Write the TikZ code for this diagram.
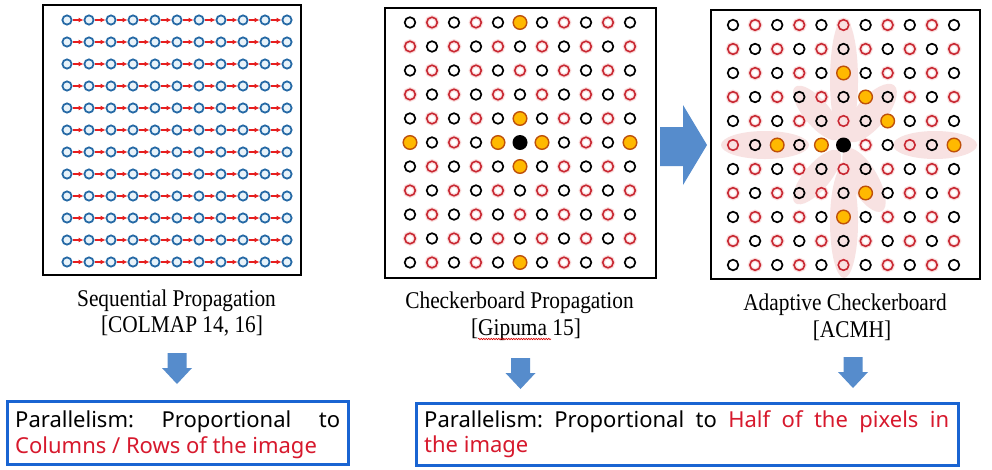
\documentclass[tikz,border=0pt]{standalone}
\usepackage{fontspec}
\newfontfamily\titlefont{Liberation Serif}[FakeStretch=0.89]
\newfontfamily\boxfont{Noto Sans}
\usetikzlibrary{arrows.meta,decorations.pathmorphing}
\definecolor{seqblue}{RGB}{37,105,165}
\definecolor{seqfill}{RGB}{232,243,250}
\definecolor{arrowred}{RGB}{230,30,30}
\definecolor{dotred}{RGB}{200,40,50}
\definecolor{halo}{RGB}{250,222,222}
\definecolor{orangefill}{RGB}{255,185,0}
\definecolor{orangedraw}{RGB}{190,80,10}
\definecolor{petal}{RGB}{248,226,226}
\definecolor{blockblue}{RGB}{86,140,204}
\definecolor{boxblue}{RGB}{25,100,210}
\definecolor{textred}{RGB}{215,25,45}
\begin{document}
\begin{tikzpicture}[x=1pt,y=-1pt,
  panel/.style={draw=black, line width=2pt, inner sep=0, anchor=north west},
  seqdot/.style={circle, draw=seqblue, fill=seqfill, line width=1.8pt, minimum size=9.2pt, inner sep=0},
  seqarrow/.style={draw=arrowred, line width=1.2pt, -{Latex[length=5pt,width=5pt]}},
  blackdot/.style={circle, draw=black, line width=1.7pt, minimum size=10.6pt, inner sep=0},
  reddot/.style={circle, draw=dotred, line width=1.6pt, minimum size=10.6pt, inner sep=0, preaction={draw=halo, line width=4pt}},
  orangedot/.style={circle, fill=orangefill, draw=orangedraw, line width=1.4pt, minimum size=13.6pt, inner sep=0},
  centerdot/.style={circle, fill=black, minimum size=15pt, inner sep=0},
  titletext/.style={font=\titlefont\fontsize{24}{26}\selectfont, inner sep=0, anchor=base},
  boxtext/.style={font=\boxfont\fontsize{22}{26}\selectfont, inner sep=0, anchor=base west},
  bluebox/.style={draw=boxblue, line width=3pt, inner sep=0, anchor=north west},
  wavy/.style={draw=red!85!black, line width=0.6pt, decorate, decoration={snake, amplitude=0.7pt, segment length=2.5pt}},
  pics/downblock/.style={code={\fill[blockblue] (-9.5,0) -- (9.5,0) -- (9.5,15) -- (15,15) -- (0,31) -- (-15,15) -- (-9.5,15) -- cycle;}}
]
\useasboundingbox[fill=white] (0,0) rectangle (992,469);

% ---------- panel 1: sequential ----------
\node[panel, minimum width=258pt, minimum height=270pt] (p1) at (42,4) {};
\foreach \r in {0,...,11}{
  \foreach \c in {0,...,10}{
    \node[seqdot] (s-\r-\c) at ({67+22*\c},{20+22*\r}) {};
  }
}
\foreach \r in {0,...,11}{
  \foreach \c in {0,...,9}{
    \pgfmathtruncatemacro\nx{\c+1}
    \draw[seqarrow] (s-\r-\c) -- (s-\r-\nx);
  }
}

% ---------- panel 2: checkerboard ----------
\node[panel, minimum width=271pt, minimum height=270pt] (p2) at (384,7) {};
\foreach \r in {0,...,10}{
  \foreach \c in {0,...,10}{
    \pgfmathtruncatemacro\pp{mod(\r+\c,2)}
    \ifnum\pp=0
      \node[blackdot] (c-\r-\c) at ({410+22*\c},{22.5+24*\r}) {};
    \else
      \node[reddot] (c-\r-\c) at ({410+22*\c},{22.5+24*\r}) {};
    \fi
  }
}
\foreach \r/\c in {0/5,4/5,5/0,5/4,5/6,5/10,6/5,10/5}{
  \node[orangedot] (co-\r-\c) at (c-\r-\c) {};
}
\node[centerdot] (cc) at (c-5-5) {};

% ---------- big arrow ----------
\coordinate (ra1) at (660,127);
\fill[blockblue] (ra1) -- (683,127) -- (683,105) -- (707,145) -- (683,185) -- (683,166) -- (660,166) -- cycle;

% ---------- panel 3: adaptive checkerboard ----------
\node[panel, minimum width=269pt, minimum height=269pt] (p3) at (710,9) {};
\coordinate (ac) at (844,145);
\begin{scope}
  \clip (711,10) rectangle (978,277);
  \fill[petal] (844,80) ellipse [x radius=14, y radius=62];
  \fill[petal] (844,222) ellipse [x radius=14, y radius=56];
  \fill[petal] (765,145) ellipse [x radius=44, y radius=14];
  \fill[petal] (935,145) ellipse [x radius=42, y radius=14];
  \fill[petal, rotate around={50:(871,113)}] (871,113) ellipse [x radius=36, y radius=15];
  \fill[petal, rotate around={130:(817,113)}] (817,113) ellipse [x radius=34, y radius=13];
  \fill[petal, rotate around={230:(817,177)}] (817,177) ellipse [x radius=34, y radius=13];
  \fill[petal, rotate around={300:(864,180)}] (864,180) ellipse [x radius=36, y radius=14];
\end{scope}
\foreach \r in {0,...,10}{
  \foreach \c in {0,...,10}{
    \pgfmathtruncatemacro\pp{mod(\r+\c,2)}
    \ifnum\pp=0
      \node[blackdot] (a-\r-\c) at ({733+22.1*\c},{25+24*\r}) {};
    \else
      \node[reddot] (a-\r-\c) at ({733+22.1*\c},{25+24*\r}) {};
    \fi
  }
}
\foreach \r/\c in {2/5,3/6,4/7,5/2,5/4,5/10,7/6,8/5}{
  \node[orangedot] (ao-\r-\c) at (a-\r-\c) {};
}
\node[centerdot] (acc) at (a-5-5) {};

% ---------- titles ----------
\node[titletext] (t1a) at (176.5,306) {Sequential Propagation};
\node[titletext] (t1b) at (182,332) {[COLMAP 14, 16]};
\node[titletext] (t2a) at (519.5,308) {Checkerboard Propagation};
\node[titletext] (t2b) at (526,335) {[Gipuma 15]};
\node[titletext] (t3a) at (845,310) {Adaptive Checkerboard};
\node[titletext] (t3b) at (852,337) {[ACMH]};
\coordinate (gw1) at (478,339);
\coordinate (gw2) at (551,339);
\draw[wavy] (gw1) -- (gw2);

% ---------- down arrows ----------
\pic (d1) at (177,353) {downblock};
\pic (d2) at (520.5,358) {downblock};
\pic (d3) at (853,357) {downblock};

% ---------- result boxes ----------
\node[bluebox, minimum width=341pt, minimum height=63pt] (b1) at (6,400) {};
\node[boxtext] (b1a) at (15,427) {\hbox to 325pt{Parallelism:\hfill Proportional\hfill to}};
\node[boxtext, text=textred] (b1b) at (15,453) {Columns / Rows of the image};
\node[bluebox, minimum width=542pt, minimum height=62pt] (b2) at (415,402) {};
\node[boxtext] (b2a) at (424,427) {\hbox to 525pt{Parallelism:\hfill Proportional\hfill to\hfill \textcolor{textred}{Half}\hfill \textcolor{textred}{of}\hfill \textcolor{textred}{the}\hfill \textcolor{textred}{pixels}\hfill \textcolor{textred}{in}}};
\node[boxtext, text=textred] (b2b) at (424,452) {the image};
\end{tikzpicture}
\end{document}
